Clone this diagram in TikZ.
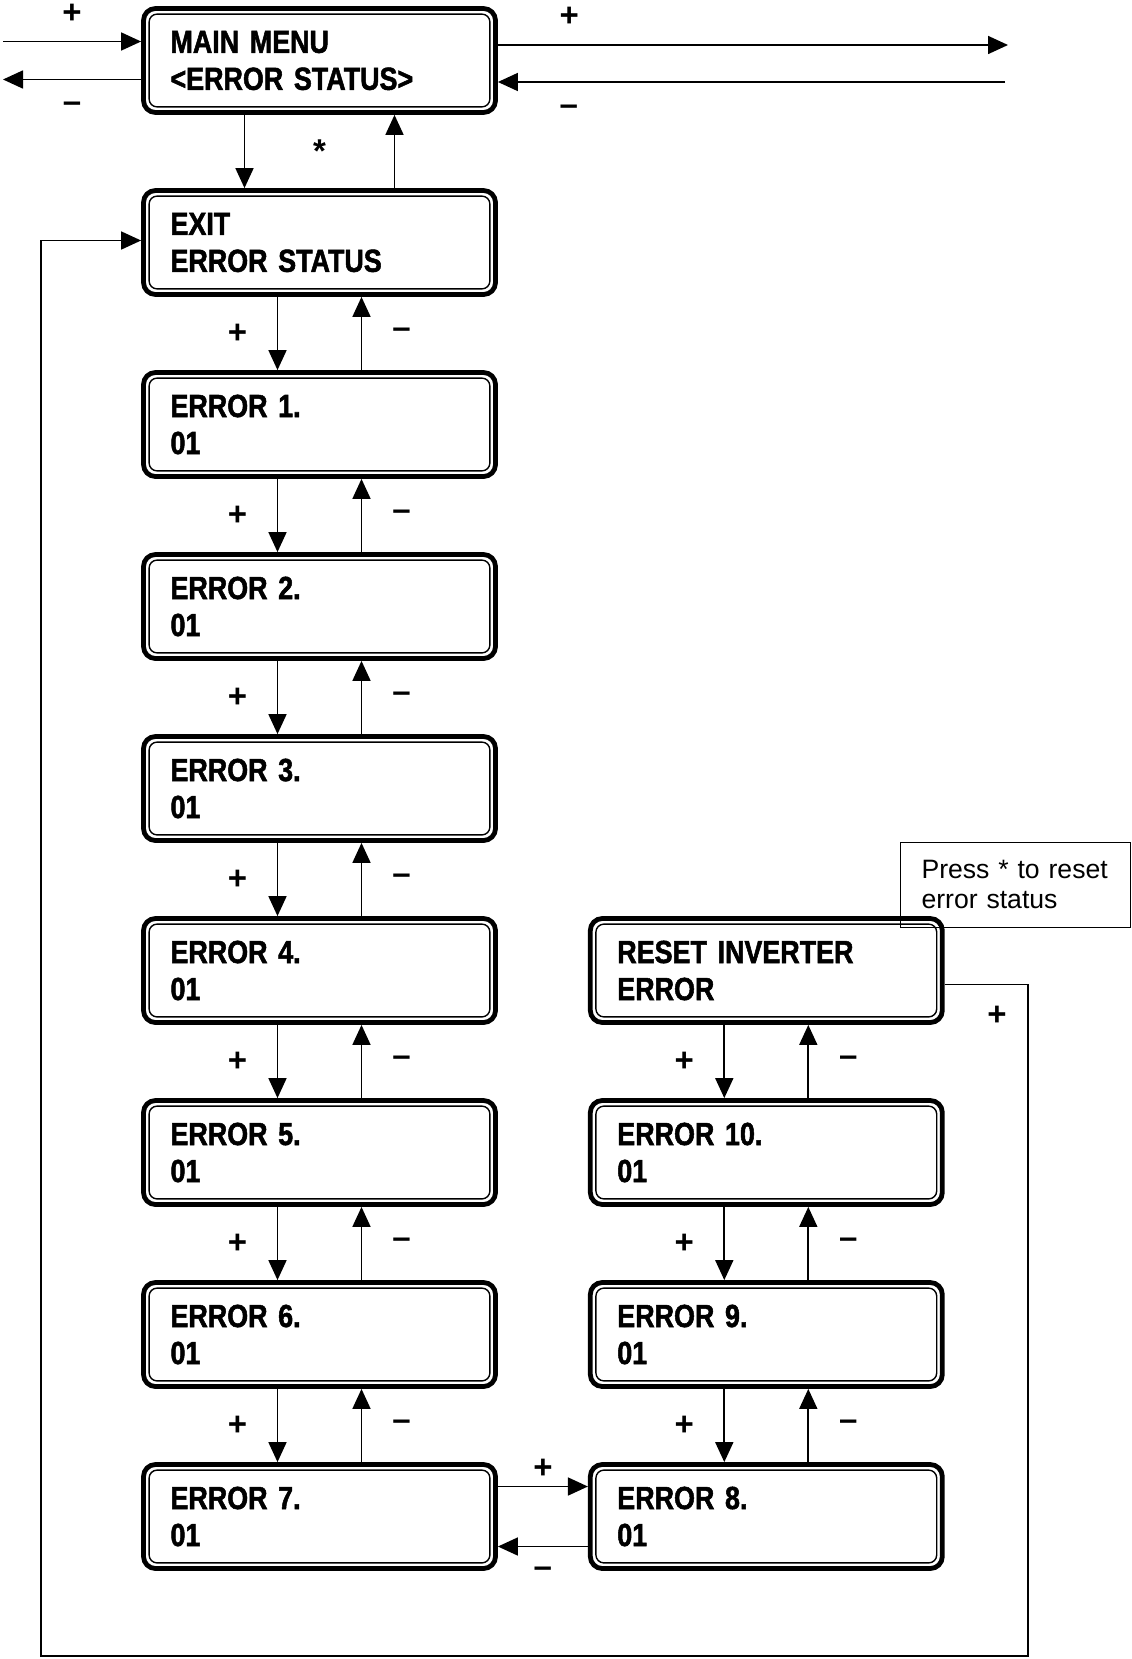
\documentclass[tikz,border=0pt]{standalone}
\usepackage{fontspec}
\setmainfont{Liberation Sans}
\newfontfamily\lcdfont{Liberation Sans Bold}[FakeStretch=0.84,FakeBold=1.6,WordSpace=0.85]
\usetikzlibrary{positioning,arrows.meta}

\begin{document}
\begin{tikzpicture}
[x=0.5pt,y=-0.5pt,
menu/.style={shape=rectangle,rounded corners=6pt,draw,line width=2.4pt,
  minimum height=52pt,text width=149pt,inner xsep=13.5pt,align=left,
  font=\lcdfont\fontsize{16}{18.5}\selectfont},
rim/.style={rounded corners=4pt,line width=0.7pt},
note/.style={shape=rectangle,draw,line width=0.5pt,minimum height=42.5pt,
  text width=94pt,inner xsep=10.5pt,align=left,
  font=\fontsize{13.3}{15.3}\selectfont},
link/.style={line width=0.85pt,-{Triangle[length=10pt,width=9pt]}},
sign/.style={font=\bfseries\fontsize{16.5}{18}\selectfont}]

\useasboundingbox (0,0) rectangle (1131,1659);

% left column
\node[menu] (main) at (319.5,60.5) {MAIN MENU\\<ERROR STATUS>};
\node[menu,below=36.6pt of main] (exit) {EXIT\\ERROR STATUS};
\node[menu,below=36.6pt of exit] (e1) {ERROR 1.\\01};
\node[menu,below=36.6pt of e1] (e2) {ERROR 2.\\01};
\node[menu,below=36.6pt of e2] (e3) {ERROR 3.\\01};
\node[menu,below=36.6pt of e3] (e4) {ERROR 4.\\01};
\node[menu,below=36.6pt of e4] (e5) {ERROR 5.\\01};
\node[menu,below=36.6pt of e5] (e6) {ERROR 6.\\01};
\node[menu,below=36.6pt of e6] (e7) {ERROR 7.\\01};

% right column
\node[menu,right=45pt of e7] (e8) {ERROR 8.\\01};
\node[menu,above=36.6pt of e8] (e9) {ERROR 9.\\01};
\node[menu,above=36.6pt of e9] (e10) {ERROR 10.\\01};
\node[menu,above=36.6pt of e10] (reset) {RESET INVERTER\\ERROR};

\node[note] (hint) at (1015.5,884.5) {Press * to reset\\error status};

\foreach \n in {main,exit,e1,e2,e3,e4,e5,e6,e7,e8,e9,e10,reset}
  \draw[rim] ([shift={(4pt,-4pt)}]\n.north west) rectangle ([shift={(-4pt,4pt)}]\n.south east);

% main menu
\coordinate (westIn) at (3,41.5);
\coordinate (westOut) at (3,79.5);
\coordinate (eastOut) at (1008,45);
\coordinate (eastIn) at (1005,82);
\draw[link] (westIn) -- node[sign,yshift=14pt] (plus-w) {+} (main.west |- westIn);
\draw[link] (main.west |- westOut) -- node[sign,yshift=-14pt] (minus-w) {\textendash} (westOut);
\draw[link] (main.east |- eastOut) -- node[sign,pos=0.14,yshift=14pt] (plus-e) {+} (eastOut);
\draw[link] (eastIn) -- node[sign,pos=0.86,yshift=-14pt] (minus-e) {\textendash} (main.east |- eastIn);

\draw[link] ([xshift=-37.5pt]main.south) -- ([xshift=-37.5pt]exit.north);
\draw[link] ([xshift=37.5pt]exit.north) -- ([xshift=37.5pt]main.south);
\path (main) -- node[sign] (star) {*} (exit);

% up and down
\foreach \a/\b in {exit/e1,e1/e2,e2/e3,e3/e4,e4/e5,e5/e6,e6/e7,reset/e10,e10/e9,e9/e8}
{
\draw[link] ([xshift=-21pt]\a.south) -- node[sign,xshift=-20pt] (plus-\b) {+} ([xshift=-21pt]\b.north);
\draw[link] ([xshift=21pt]\b.north) -- node[sign,xshift=20pt] (minus-\b) {\textendash} ([xshift=21pt]\a.south);
}

\draw[link] ([yshift=15pt]e7.east) -- node[sign,yshift=9pt] (plus-h) {+} ([yshift=15pt]e8.west);
\draw[link] ([yshift=-15pt]e8.west) -- node[sign,yshift=-13pt] (minus-h) {\textendash} ([yshift=-15pt]e7.east);

% back to exit
\coordinate (cornerR) at (1028,1656);
\coordinate (cornerL) at (41,1656);
\draw[link] ([yshift=-7pt]reset.east) -| (cornerR) -- (cornerL) |- ([yshift=1pt]exit.west);
\node[sign] (plus-loop) at (997,1016) {+};
\end{tikzpicture}
\end{document}
